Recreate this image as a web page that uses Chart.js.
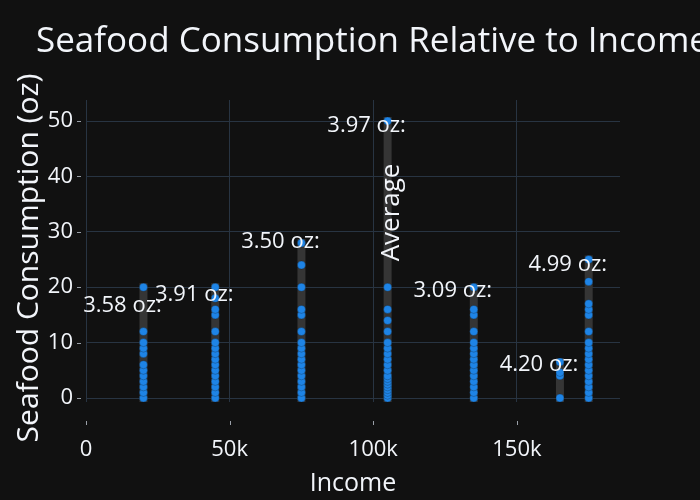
<!DOCTYPE html>
<html>
<head>
<meta charset="utf-8">
<script src="https://cdn.jsdelivr.net/npm/chart.js@4.4.0/dist/chart.umd.min.js"></script>
<style>
    html, body { margin: 0; padding: 0; background: #111111; }
    #wrap { width: 700px; height: 500px; }
</style>
</head>
<body>
<div id="wrap"><canvas id="seafoodChart"></canvas></div>
<script>
// Income groups (x) and the consumption readings (oz) at each one
const incomes = [20000, 45000, 75000, 105000, 135000, 165000, 175000];
const oz20k = [0, 1, 2, 3, 4, 5, 6, 8, 9, 10, 12, 20];
const oz45k = [0, 1, 2, 3, 4, 5, 6, 7, 8, 9, 10, 12, 15, 16, 18, 20];
const oz75k = [0, 1, 2, 3, 4, 5, 6, 7, 8, 9, 10, 12, 15, 16, 20, 24, 28];
const oz105k = [0, 0.5, 1, 1.5, 2, 2.5, 3, 3.5, 4, 5, 6, 7, 8, 9, 10, 12, 14, 16, 20, 50];
const oz135k = [0, 1, 2, 3, 4, 5, 6, 7, 8, 9, 10, 12, 15, 16, 20];
const oz165k = [0, 4, 4.6, 6.5];
const oz175k = [0, 1, 2, 3, 4, 5, 6, 7, 8, 9, 10, 12, 15, 16, 17, 21, 25];
const groups = [oz20k, oz45k, oz75k, oz105k, oz135k, oz165k, oz175k];

// Average per income group, and the height (oz) its label sits at
const averages = [3.58, 3.91, 3.50, 3.97, 3.09, 4.20, 4.99];
const labelY = [16.6, 18.6, 28.3, 49.1, 19.3, 6.0, 24.0];

const xTicks = [0, 50000, 100000, 150000];
const xTickLabels = ['0', '50k', '100k', '150k'];
const yTicks = [0, 10, 20, 30, 40, 50];

const TEXT = '#f2f5fa';
const GRID = '#283442';
const FONT = 'Open Sans';

// Range bars: one thick line from min to max per income group
const rangeSets = incomes.map((inc, i) => ({
    data: [{ x: inc, y: Math.min(...groups[i]) }, { x: inc, y: Math.max(...groups[i]) }],
    showLine: true,
    borderColor: '#353535',
    borderWidth: 8,
    borderCapStyle: 'square',
    pointRadius: 0,
    order: 2
}));

const points = [];
incomes.forEach((inc, i) => groups[i].forEach(v => points.push({ x: inc, y: v })));

const bgPlugin = {
    id: 'bg',
    beforeDraw(chart) {
        const c = chart.ctx;
        c.save();
        c.fillStyle = '#111111';
        c.fillRect(0, 0, chart.width, chart.height);
        c.restore();
    }
};

const notesPlugin = {
    id: 'notes',
    afterDatasetsDraw(chart) {
        const c = chart.ctx;
        const xs = chart.scales.x, ys = chart.scales.y;
        c.save();
        c.fillStyle = TEXT;
        c.font = '22px "' + FONT + '"';
        c.textAlign = 'center';
        c.textBaseline = 'middle';
        incomes.forEach((inc, i) => {
            c.fillText(averages[i].toFixed(2) + ' oz:', xs.getPixelForValue(inc) - 21, ys.getPixelForValue(labelY[i]));
        });
        // rotated "Average" note on the 105k bar
        c.translate(xs.getPixelForValue(105000) + 4, ys.getPixelForValue(33.5));
        c.rotate(-Math.PI / 2);
        c.font = '26px "' + FONT + '"';
        c.fillText('Average', 0, 0);
        c.restore();
    },
    afterDraw(chart) {
        const c = chart.ctx;
        const area = chart.chartArea;
        const xs = chart.scales.x, ys = chart.scales.y;
        c.save();
        // title
        c.fillStyle = TEXT;
        c.font = '35px "' + FONT + '"';
        c.textAlign = 'left';
        c.textBaseline = 'alphabetic';
        c.fillText('Seafood Consumption Relative to Income', 36, 52);
        // y axis title, sits a little below the plot middle
        c.save();
        c.translate(29, 258);
        c.rotate(-Math.PI / 2);
        c.textAlign = 'center';
        c.textBaseline = 'middle';
        c.font = '30px "' + FONT + '"';
        c.fillText('Seafood Consumption (oz)', 0, 0);
        c.restore();
        // small outside tick marks
        c.strokeStyle = '#9aa0a8';
        c.lineWidth = 1;
        yTicks.forEach(v => {
            const y = Math.round(ys.getPixelForValue(v)) + 0.5;
            c.beginPath(); c.moveTo(area.left - 9, y); c.lineTo(area.left - 5, y); c.stroke();
        });
        xTicks.forEach(v => {
            const x = Math.round(xs.getPixelForValue(v)) + 0.5;
            c.beginPath(); c.moveTo(x, area.bottom + 19); c.lineTo(x, area.bottom + 23); c.stroke();
        });
        c.restore();
    }
};

new Chart(document.getElementById('seafoodChart'), {
    type: 'scatter',
    data: {
        datasets: [{
            data: points,
            backgroundColor: '#1e84e6',
            borderColor: 'rgba(17,17,17,0.5)',
            borderWidth: 0.5,
            pointRadius: 4,
            order: 1
        }].concat(rangeSets)
    },
    options: {
        responsive: true,
        maintainAspectRatio: false,
        animation: false,
        layout: { padding: { top: 100, right: 80, left: 0, bottom: 0 } },
        plugins: {
            legend: { display: false },
            tooltip: { enabled: false },
            title: { display: false }
        },
        scales: {
            x: {
                type: 'linear',
                min: 0,
                max: 185900,
                afterBuildTicks: s => { s.ticks = xTicks.map(v => ({ value: v })); },
                afterFit: s => { s.height = 98; },
                grid: { color: GRID, drawTicks: false },
                border: { display: false },
                ticks: {
                    color: TEXT,
                    font: { family: FONT, size: 22 },
                    padding: 35,
                    maxRotation: 0,
                    callback: v => xTickLabels[xTicks.indexOf(v)]
                },
                title: {
                    display: true,
                    text: 'Income',
                    color: TEXT,
                    font: { family: FONT, size: 25 },
                    padding: { top: 0, bottom: 1 }
                }
            },
            y: {
                min: -0.72,
                max: 53.8,
                afterBuildTicks: s => { s.ticks = yTicks.map(v => ({ value: v })); },
                afterFit: s => { s.width = 86; },
                grid: { color: GRID, drawTicks: false },
                border: { display: false },
                ticks: {
                    color: TEXT,
                    font: { family: FONT, size: 22 },
                    padding: 13
                }
            }
        }
    },
    plugins: [bgPlugin, notesPlugin]
});
</script>
</body>
</html>
